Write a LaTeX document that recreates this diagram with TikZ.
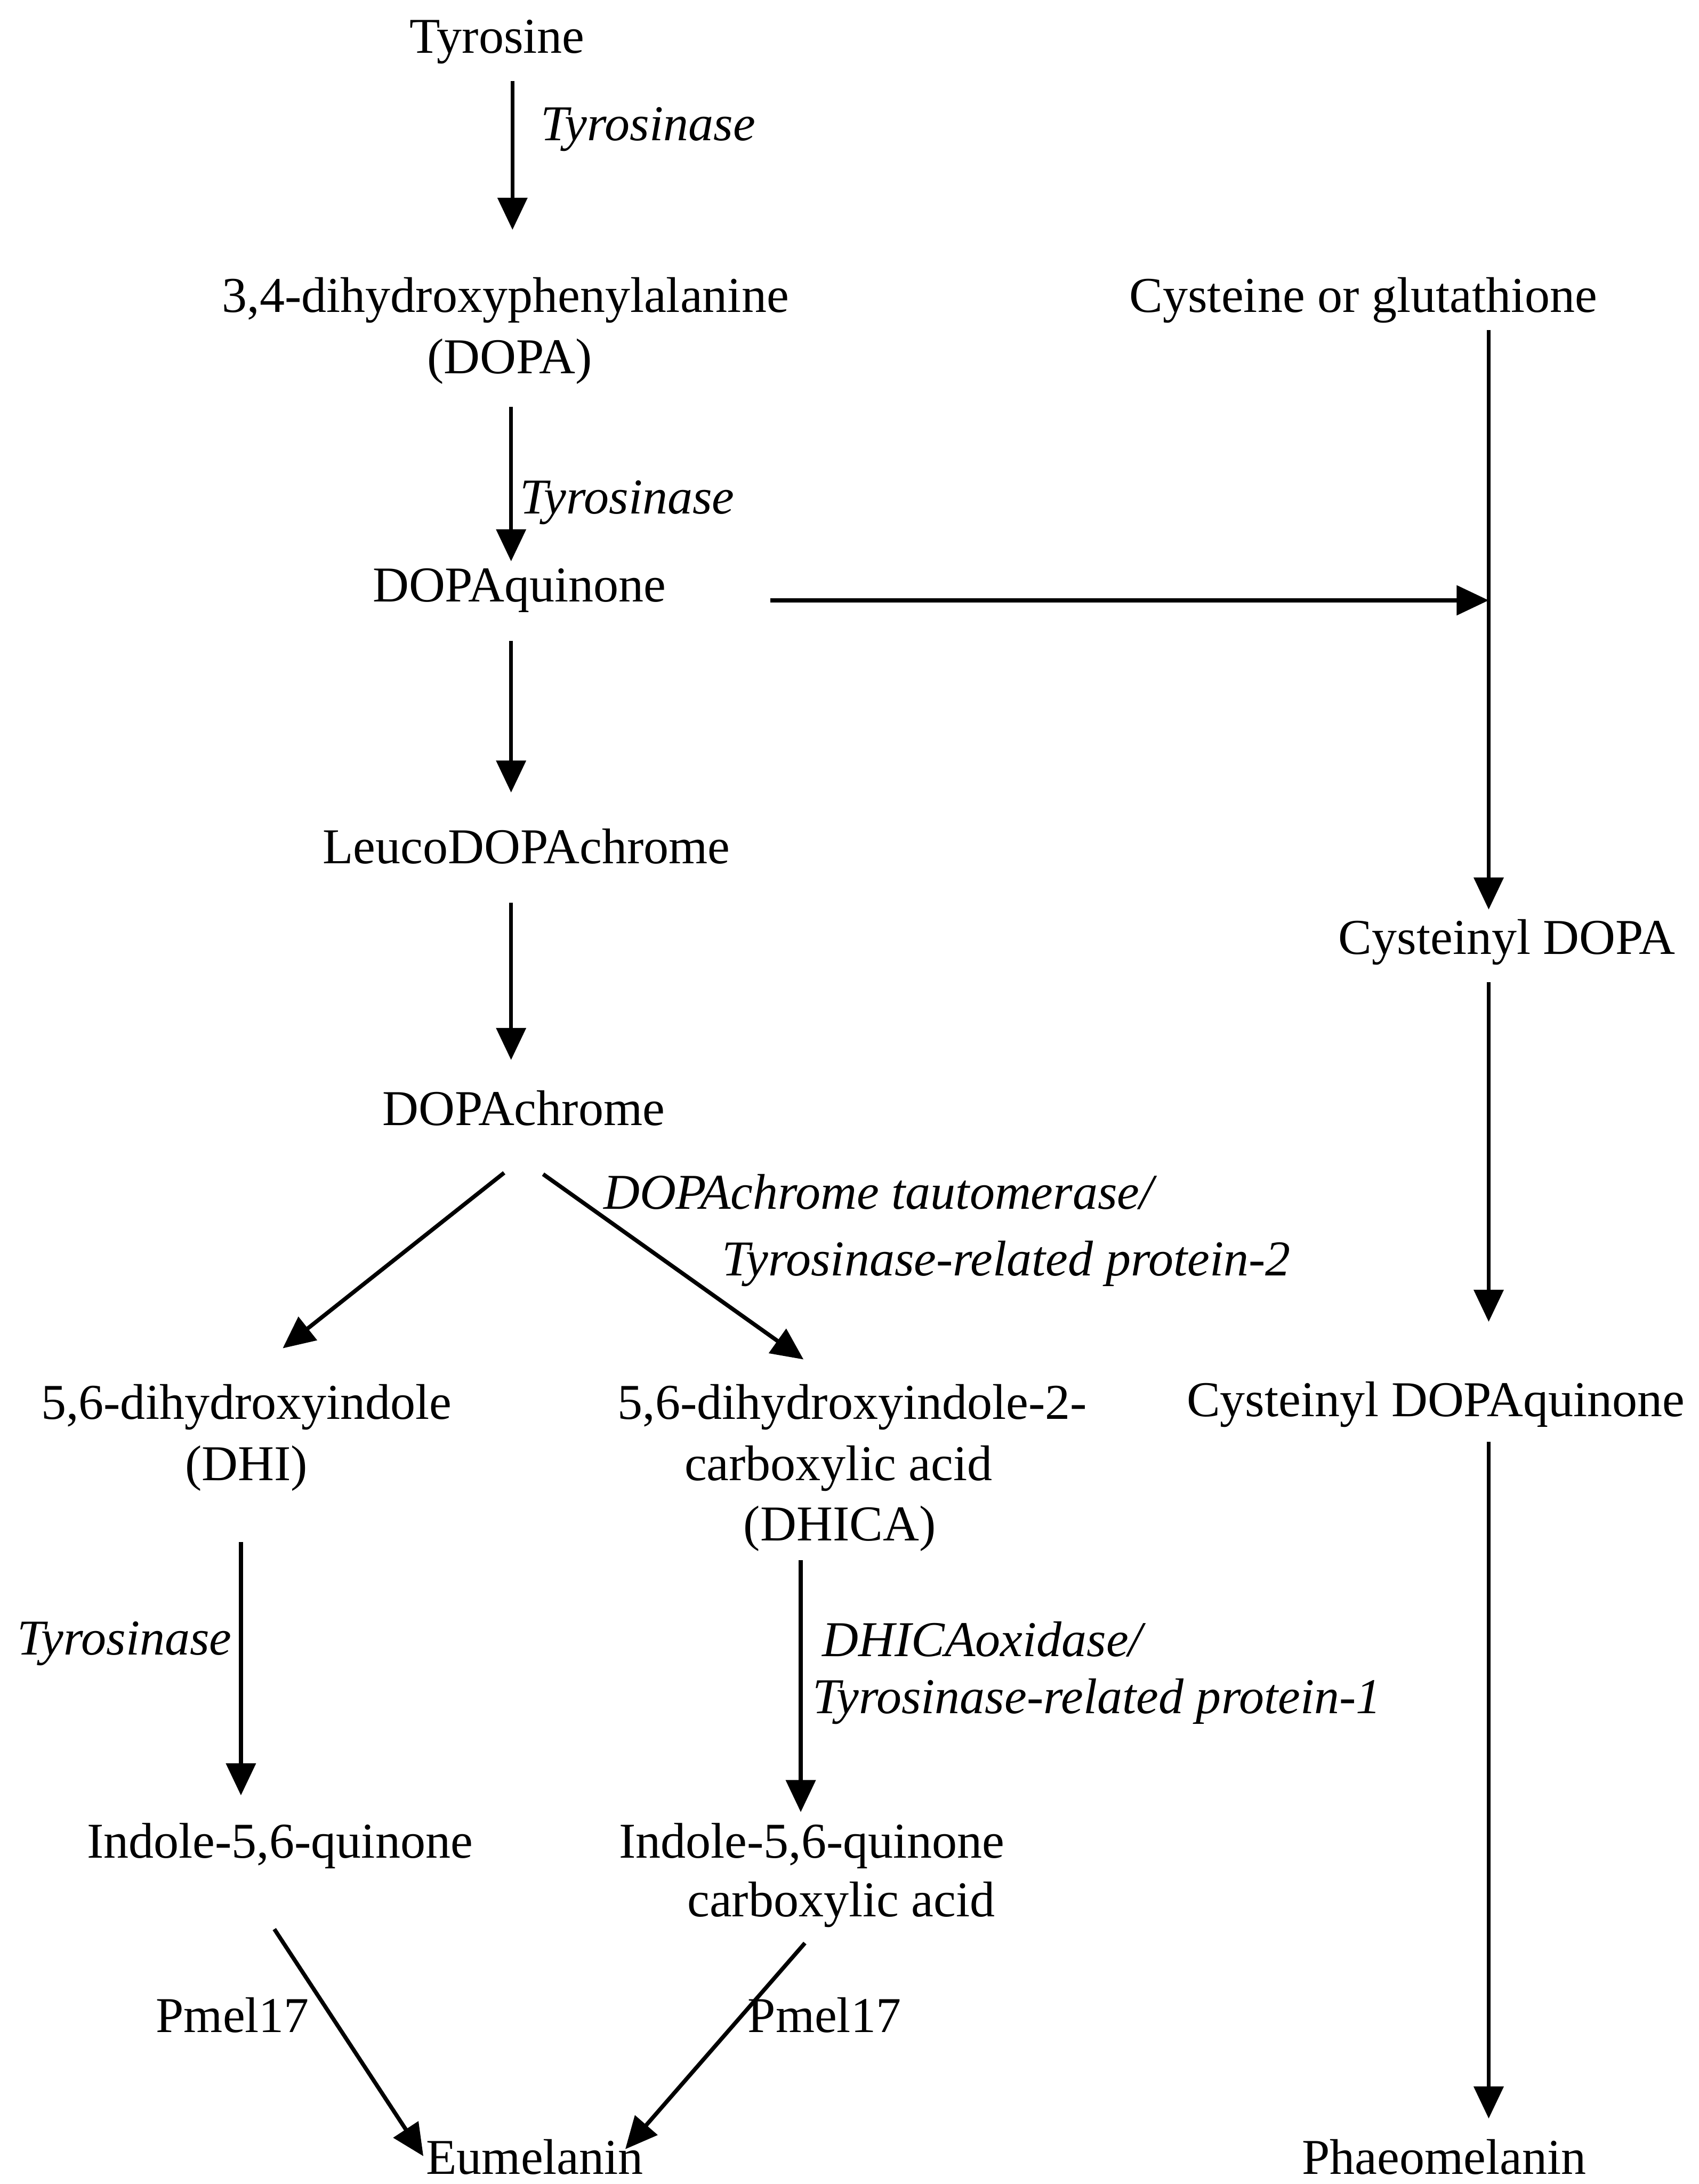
\documentclass[tikz,border=0pt]{standalone}
\usepackage{fontspec}
\setmainfont{Liberation Serif}
\usetikzlibrary{arrows.meta}
\begin{document}
\begin{tikzpicture}[x=0.5pt,y=-0.5pt,
  chem/.style={anchor=base,inner sep=0pt,font=\fontsize{18}{22}\selectfont},
  enz/.style={anchor=base west,inner sep=0pt,font=\fontsize{18}{22}\selectfont\itshape},
  arr/.style={line width=1.45pt,-{Triangle[length=11.5pt,width=10.5pt]}}]
\useasboundingbox (0,0) rectangle (1220,1568);

% --- eumelanin branch: compounds
\node[chem] (tyr)    at (357,38)   {Tyrosine};
\node[chem] (dopa)   at (363,224)  {3,4-dihydroxyphenylalanine};
\node[chem] (dopab)  at (366,268)  {(DOPA)};
\node[chem] (dq)     at (373,432)  {DOPAquinone};
\node[chem] (leuco)  at (378,620)  {LeucoDOPAchrome};
\node[chem] (dchr)   at (376,808)  {DOPAchrome};
\node[chem] (dhi)    at (177,1019) {5,6-dihydroxyindole};
\node[chem] (dhib)   at (177,1063) {(DHI)};
\node[chem] (dhica)  at (612,1019) {5,6-dihydroxyindole-2-};
\node[chem] (dhicab) at (602,1063) {carboxylic acid};
\node[chem] (dhicac) at (603,1106) {(DHICA)};
\node[chem] (iq)     at (201,1334) {Indole-5,6-quinone};
\node[chem] (iqc)    at (583,1334) {Indole-5,6-quinone};
\node[chem] (iqcb)   at (604,1376) {carboxylic acid};
\node[chem] (eum)    at (384,1561) {Eumelanin};

% --- phaeomelanin branch: compounds
\node[chem] (cys)    at (979,224)  {Cysteine or glutathione};
\node[chem] (cdopa)  at (1082,685) {Cysteinyl DOPA};
\node[chem] (cdq)    at (1031,1017){Cysteinyl DOPAquinone};
\node[chem] (phaeo)  at (1037,1561){Phaeomelanin};

% --- enzyme labels
\node[enz] (e1)  at (388,101)  {Tyrosinase};
\node[enz] (e2)  at (373,369)  {Tyrosinase};
\node[enz] (e3)  at (433,868)  {DOPAchrome tautomerase/};
\node[enz] (e3b) at (518,916)  {Tyrosinase-related protein-2};
\node[enz] (e4)  at (12,1188)  {Tyrosinase};
\node[enz] (e5)  at (590,1189) {DHICAoxidase/};
\node[enz] (e5b) at (583,1230) {Tyrosinase-related protein-1};
\node[chem] (pm1) at (167,1459) {Pmel17};
\node[chem] (pm2) at (592,1459) {Pmel17};

% --- connector end points
\coordinate (tyr-o)   at (368,58);
\coordinate (dopa-i)  at (368,165);
\coordinate (dopa-o)  at (367,292);
\coordinate (dq-i)    at (367,403);
\coordinate (dq-o)    at (367,460);
\coordinate (leuco-i) at (367,569);
\coordinate (leuco-o) at (367,648);
\coordinate (dchr-i)  at (367,761);
\coordinate (dchr-l)  at (362,842);
\coordinate (dhi-i)   at (203,968);
\coordinate (dchr-r)  at (390,843);
\coordinate (dhica-i) at (577,976);
\coordinate (dhi-o)   at (173,1107);
\coordinate (iq-i)    at (173,1289);
\coordinate (dhica-o) at (575,1120);
\coordinate (iqc-i)   at (575,1301);
\coordinate (iq-o)    at (197,1385);
\coordinate (eum-l)   at (304,1548);
\coordinate (iqc-o)   at (578,1395);
\coordinate (eum-r)   at (449,1543);
\coordinate (dq-r)    at (553,431);
\coordinate (cys-o)   at (1069,237);
\coordinate (join)    at (1069,431);
\coordinate (cdopa-i) at (1069,653);
\coordinate (cdopa-o) at (1069,705);
\coordinate (cdq-i)   at (1069,949);
\coordinate (cdq-o)   at (1069,1035);
\coordinate (phaeo-i) at (1069,1521);

% --- connectors
\draw[arr] (tyr-o) -- (dopa-i);
\draw[arr] (dopa-o) -- (dq-i);
\draw[arr] (dq-o) -- (leuco-i);
\draw[arr] (leuco-o) -- (dchr-i);
\draw[arr] (dchr-l) -- (dhi-i);
\draw[arr] (dchr-r) -- (dhica-i);
\draw[arr] (dhi-o) -- (iq-i);
\draw[arr] (dhica-o) -- (iqc-i);
\draw[arr] (iq-o) -- (eum-l);
\draw[arr] (iqc-o) -- (eum-r);
\draw[arr] (dq-r) -- (join);
\draw[arr] (cys-o) -- (cdopa-i);
\draw[arr] (cdopa-o) -- (cdq-i);
\draw[arr] (cdq-o) -- (phaeo-i);
\end{tikzpicture}
\end{document}
